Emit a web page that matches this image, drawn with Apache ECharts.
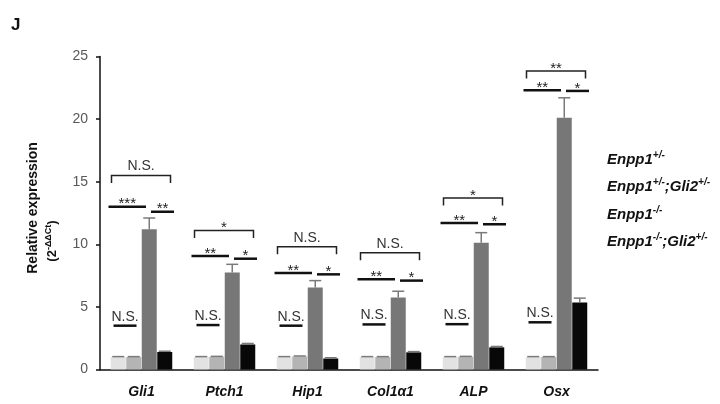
<!DOCTYPE html>
<html><head><meta charset="utf-8">
<script src="https://cdn.jsdelivr.net/npm/echarts@6/dist/echarts.min.js"></script>
<style>html,body{margin:0;padding:0;background:#fff}#c{width:720px;height:404px}</style>
</head><body><div id="c"></div>
<script>
// ---- data ----
const categories = ['Gli1', 'Ptch1', 'Hip1', 'Col1α1', 'ALP', 'Osx'];
const seriesNames = ['Enpp1+/-', 'Enpp1+/-;Gli2+/-', 'Enpp1-/-', 'Enpp1-/-;Gli2+/-'];
const het      = [1.0, 1.0, 1.0, 1.0, 1.0, 1.0];
const hetGli2  = [1.0, 1.02, 1.05, 1.0, 1.02, 1.0];
const ko       = [11.2, 7.75, 6.55, 5.75, 10.13, 20.1];
const koGli2   = [1.4, 2.0, 0.88, 1.37, 1.77, 5.35];
const hetErr     = [0.03, 0.03, 0.03, 0.03, 0.03, 0.03];
const hetGli2Err = [0.03, 0.03, 0.03, 0.03, 0.03, 0.03];
const koErr      = [0.9, 0.65, 0.55, 0.5, 0.8, 1.6];
const koGli2Err  = [0.06, 0.08, 0.06, 0.06, 0.07, 0.35];
const yTickValues = [0, 5, 10, 15, 20, 25];
// significance annotations (value-axis levels)
const nsLineLevel    = [3.5, 3.55, 3.5, 3.6, 3.62, 3.77];
const pairLeftLevel  = [13.0, 9.07, 7.7, 7.2, 11.7, 22.3];
const pairRightLevel = [12.6, 8.85, 7.6, 7.1, 11.6, 22.25];
const bracketLevel   = [15.5, 11.1, 9.8, 9.33, 13.7, 23.85];
const nsLineLabel    = ['N.S.', 'N.S.', 'N.S.', 'N.S.', 'N.S.', 'N.S.'];
const pairLeftLabel  = ['***', '**', '**', '**', '**', '**'];
const pairRightLabel = ['**', '*', '*', '*', '*', '*'];
const bracketLabel   = ['N.S.', '*', 'N.S.', 'N.S.', '*', '**'];

// ---- styles ----
const barColors = ['#e2e2e2', '#b4b4b4', '#777777', '#080808'];
const BAR_W = 15, BAR_GAP = 0.5;
const FONT = '"Liberation Sans", Arial, sans-serif';
const legendRich = {
  '0': '{b|Enpp1}{s|+/-}',
  '1': '{b|Enpp1}{s|+/-}{b|;Gli2}{s|+/-}',
  '2': '{b|Enpp1}{s|-/-}',
  '3': '{b|Enpp1}{s|-/-}{b|;Gli2}{s|+/-}'
};

const chart = echarts.init(document.getElementById('c'), null, {renderer: 'canvas'});
const allVals = [het, hetGli2, ko, koGli2];
const allErrs = [hetErr, hetGli2Err, koErr, koGli2Err];

function barOffset(k) {
  const total = 4 * BAR_W + 3 * BAR_GAP;
  return -total / 2 + BAR_W / 2 + k * (BAR_W + BAR_GAP);
}

function errRender(k) {
  return function (params, api) {
    const i = api.value(0);
    const v = api.value(1), e = api.value(2);
    const p0 = api.coord([i, v]);
    const p1 = api.coord([i, v + e]);
    const x = p0[0] + barOffset(k);
    const cap = 6;
    return {
      type: 'group',
      children: [
        {type: 'line', shape: {x1: x, y1: p0[1], x2: x, y2: p1[1]}, style: {stroke: '#7a7a7a', lineWidth: 1.5}},
        {type: 'line', shape: {x1: x - cap, y1: p1[1], x2: x + cap, y2: p1[1]}, style: {stroke: '#7a7a7a', lineWidth: 1.5}}
      ]
    };
  };
}

const spans = {
  ns: [-28, -5],
  left: [-33, 4.5],
  right: [9.5, 32.5],
  bracket: [-30, 29]
};
function annRender(kind, labels) {
  return function (params, api) {
    const i = api.value(0);
    const lvl = api.value(1);
    const c = api.coord([i, lvl]);
    const band = api.size([1, 0])[0];
    const s = spans[kind];
    const x1 = c[0] + s[0] * band / 83, x2 = c[0] + s[1] * band / 83;
    const y = c[1];
    const label = labels[params.dataIndex];
    const children = [];
    const isStar = label.indexOf('*') >= 0;
    if (kind === 'bracket') {
      children.push({type: 'polyline', shape: {points: [[x1, y + 7.5], [x1, y], [x2, y], [x2, y + 7.5]]},
        style: {stroke: '#222', lineWidth: 1.5, fill: null}});
    } else {
      children.push({type: 'line', shape: {x1: x1, y1: y, x2: x2, y2: y}, style: {stroke: '#111', lineWidth: 2.5}});
    }
    children.push({
      type: 'text',
      x: (x1 + x2) / 2,
      y: isStar ? y + 5 : y - 2,
      style: {
        text: label,
        fontFamily: FONT,
        fontSize: isStar ? 15 : 14,
        fill: isStar ? '#222' : '#333',
        align: 'center',
        verticalAlign: 'bottom'
      }
    });
    return {type: 'group', children: children};
  };
}

function catData(arr) { return arr.map((v, i) => [i, v]); }

const series = [];
seriesNames.forEach((name, k) => {
  series.push({
    name: name, type: 'bar', data: allVals[k],
    barWidth: BAR_W, barGap: (BAR_GAP / BAR_W * 100) + '%',
    itemStyle: {color: barColors[k]},
    z: 2
  });
});
seriesNames.forEach((name, k) => {
  series.push({
    type: 'custom', renderItem: errRender(k),
    data: allVals[k].map((v, i) => [i, v, allErrs[k][i]]),
    encode: {x: 0, y: [1, 2]}, z: 3, silent: true, tooltip: {show: false}
  });
});
[['ns', nsLineLevel, nsLineLabel], ['left', pairLeftLevel, pairLeftLabel],
 ['right', pairRightLevel, pairRightLabel], ['bracket', bracketLevel, bracketLabel]].forEach(a => {
  series.push({
    type: 'custom', renderItem: annRender(a[0], a[2]),
    data: catData(a[1]), encode: {x: 0, y: 1}, z: 4, silent: true
  });
});

chart.setOption({
  animation: false,
  backgroundColor: '#fff',
  grid: {left: 100, right: 122, top: 56.5, bottom: 34.5, containLabel: false},
  legend: {
    orient: 'vertical', left: 597, top: 145,
    itemWidth: 0, itemHeight: 14, itemGap: 10.5,
    icon: 'rect', itemStyle: {opacity: 0},
    selectedMode: false,
    data: seriesNames,
    formatter: function (name) { return legendRich[String(seriesNames.indexOf(name))]; },
    textStyle: {
      rich: {
        b: {fontFamily: FONT, fontSize: 15, fontWeight: 'bold', fontStyle: 'italic', color: '#111', lineHeight: 19},
        s: {fontFamily: FONT, fontSize: 10, fontWeight: 'bold', fontStyle: 'italic', color: '#111', verticalAlign: 'top', lineHeight: 19}
      }
    }
  },
  xAxis: {
    type: 'category', data: categories,
    axisLine: {lineStyle: {color: '#111', width: 1.5}},
    axisTick: {show: false},
    axisLabel: {fontFamily: FONT, fontSize: 14, fontWeight: 'bold', fontStyle: 'italic', color: '#111', margin: 16}
  },
  yAxis: {
    type: 'value', min: 0, max: 25, interval: 5,
    splitLine: {show: false},
    axisLine: {show: true, lineStyle: {color: '#111', width: 1.5}},
    axisTick: {show: true, length: 4, lineStyle: {color: '#111', width: 1.5}},
    axisLabel: {fontFamily: FONT, fontSize: 14, color: '#595959', margin: 12,
      formatter: function (v) { return yTickValues.indexOf(v) >= 0 ? String(v) : ''; }}
  },
  graphic: [
    {type: 'text', left: 11, top: 17, style: {text: 'J', fontFamily: FONT, fontSize: 17, fontWeight: 'bold', fill: '#111'}},
    {type: 'text', x: 33, y: 208, rotation: Math.PI / 2,
      style: {text: 'Relative expression', fontFamily: FONT, fontSize: 14, fontWeight: 'bold', fill: '#111', align: 'center', verticalAlign: 'middle'}},
    {type: 'text', x: 52, y: 241, rotation: Math.PI / 2,
      style: {text: '{a|(2}{s|-ΔΔCt}{a|)}', align: 'center', verticalAlign: 'middle',
        rich: {
          a: {fontFamily: FONT, fontSize: 13, fontWeight: 'bold', fill: '#111', lineHeight: 16},
          s: {fontFamily: FONT, fontSize: 9, fontWeight: 'bold', fill: '#111', verticalAlign: 'top', lineHeight: 16}
        }}}
  ],
  series: series
});
</script></body></html>
